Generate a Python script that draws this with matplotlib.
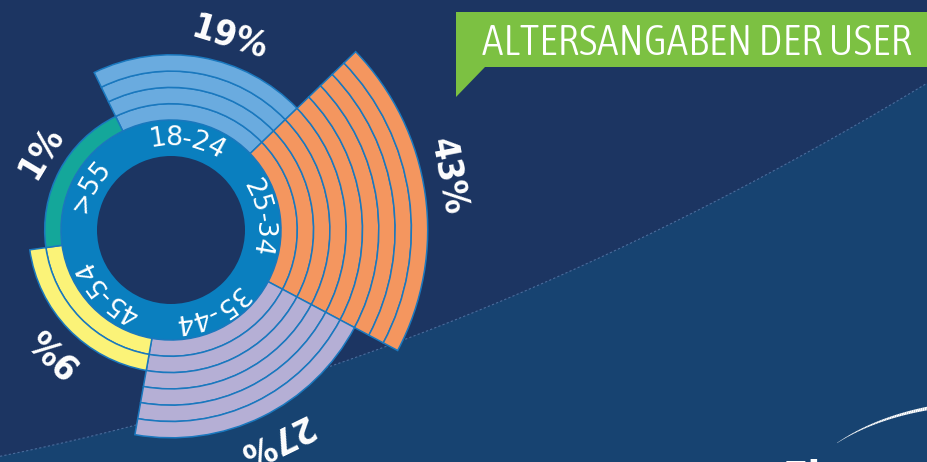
import numpy as np
import matplotlib
matplotlib.use("Agg")
import matplotlib.pyplot as plt
from matplotlib.patches import Wedge, Polygon
from matplotlib.collections import LineCollection
from matplotlib import font_manager
from matplotlib.font_manager import FontProperties

# ---------------- data ----------------
categories = ["18-24", "25-34", "35-44", "45-54", ">55"]
shares = [19, 43, 27, 9, 1]
pct_labels = ["19%", "43%", "27%", "9%", "1%"]
title = "ALTERSANGABEN DER USER"

# ---------------- style ----------------
sector_colors = ["#6aabdf", "#f4965f", "#b5afd5", "#fbf378", "#14a79a"]
label_angle_shift = [-7, 3, 0, 2, -3]
edge_color = "#1a78be"
ring_color = "#0a7fbf"
bg_dark = "#1c3562"
bg_light = "#174371"
banner_green = "#7cc142"

ttf = font_manager.fontManager.ttflist


def weight_num(w):
    m = {"light": 300, "normal": 400, "regular": 400, "medium": 500, "bold": 700}
    try:
        return int(w)
    except (TypeError, ValueError):
        return m.get(str(w).lower(), 400)


def find_font(pred, target_weight):
    cands = [f for f in ttf if pred(f) and f.style == "normal"]
    if not cands:
        return None
    best = min(cands, key=lambda f: abs(weight_num(f.weight) - target_weight))
    return FontProperties(fname=best.fname)


def is_cond(f):
    return ("Condensed" in f.name or "Narrow" in f.name
            or f.stretch in ("condensed", "semi-condensed", "extra-condensed"))


title_fp = find_font(is_cond, 300) or find_font(lambda f: f.name == "Roboto", 300) \
    or FontProperties(family="DejaVu Sans")
pct_fp = find_font(is_cond, 700) or find_font(lambda f: f.name == "Roboto", 700) \
    or FontProperties(family="DejaVu Sans", weight="bold")

W, H = 927, 462
fig = plt.figure(figsize=(W / 100, H / 100), dpi=100, facecolor=bg_dark)
ax = fig.add_axes([0, 0, 1, 1])
ax.set_xlim(0, W)
ax.set_ylim(0, H)
ax.set_aspect("equal")
ax.axis("off")
renderer = fig.canvas.get_renderer()


def Y(y):
    return H - y


# ---------------- background ----------------
bx = [0, 132, 363, 450, 757, 927]
by = [456, 427, 353, 323, 180, 83]
coef = np.polyfit(bx, by, 2)
xs = np.linspace(0, W, 300)
ys = np.polyval(coef, xs)
ax.add_patch(Polygon(list(zip(xs, H - ys)) + [(W, 0), (0, 0)], closed=True,
                     facecolor=bg_light, edgecolor="none", zorder=0))
ax.plot(xs, H - ys, color="#4b6c9c", lw=0.8, ls=(0, (2, 2)), zorder=0.5)

# white tapered arc bottom right
t = np.linspace(0, 1, 60)
P0, P1, P2 = np.array([837, 443]), np.array([875, 418]), np.array([930, 408])
pts = ((1 - t) ** 2)[:, None] * P0 + (2 * (1 - t) * t)[:, None] * P1 + (t ** 2)[:, None] * P2
pts[:, 1] = H - pts[:, 1]
segs = np.stack([pts[:-1], pts[1:]], axis=1)
ax.add_collection(LineCollection(segs, colors="white", linewidths=np.linspace(0.2, 2.6, len(segs)), zorder=1))
ax.text(783, Y(459), "Ei", color="white", fontsize=30, fontproperties=pct_fp,
        ha="left", va="top", zorder=1)

# ---------------- banner ----------------
banner = [(456, 12), (927, 12), (927, 67), (485, 67), (456, 97)]
ax.add_patch(Polygon([(x, Y(y)) for x, y in banner], closed=True, facecolor=banner_green,
                     edgecolor="none", zorder=2))
tt = ax.text(482, Y(55), title, color="white", fontproperties=title_fp,
             ha="left", va="baseline", zorder=3)
tt.set_fontsize(32)
w = tt.get_window_extent(renderer).width
tt.set_fontsize(32 * 431 / w)

# ---------------- radial chart ----------------
cx, cy = 171, Y(230)
r_hole, r_ring = 74, 110
layer_t = 16.3
start_angle = 116.0
span = 360.0 / len(categories)

ax.add_patch(Wedge((cx, cy), r_ring, 0, 360, width=r_ring - r_hole, facecolor=ring_color,
                   edgecolor="none", zorder=3))

for i, (cat, share, col, lab) in enumerate(zip(categories, shares, sector_colors, pct_labels)):
    th2 = start_angle - i * span
    th1 = th2 - span
    n_layers = int(np.ceil(share / 5))
    for k in range(n_layers):
        ax.add_patch(Wedge((cx, cy), r_ring + (k + 1) * layer_t, th1, th2, width=layer_t,
                           facecolor=col, edgecolor=edge_color, lw=1.1, zorder=4))
    mid = np.deg2rad((th1 + th2) / 2)
    # percentage label
    lab_ang = mid + np.deg2rad(label_angle_shift[i])
    r_lab = r_ring + n_layers * layer_t + 26
    pt = ax.text(cx + r_lab * np.cos(lab_ang), cy + r_lab * np.sin(lab_ang), lab, color="white",
                 fontproperties=pct_fp,
                 rotation=np.rad2deg(lab_ang) - 90, rotation_mode="anchor",
                 ha="center", va="center", zorder=6)
    pt.set_fontsize(26)
    # curved category label
    r_txt = (r_hole + r_ring) / 2
    fs = 19
    widths = []
    for j in range(len(cat) + 1):
        if j == 0:
            widths.append(0.0)
            continue
        tmp = ax.text(0, 0, cat[:j], fontsize=fs, family="DejaVu Sans")
        widths.append(tmp.get_window_extent(renderer).width)
        tmp.remove()
    total = widths[-1]
    for j, ch in enumerate(cat):
        s = (widths[j] + widths[j + 1]) / 2
        th = mid + (total / 2 - s) / r_txt
        ax.text(cx + r_txt * np.cos(th), cy + r_txt * np.sin(th), ch, color="white",
                fontsize=fs, family="DejaVu Sans", rotation=np.rad2deg(th) - 90,
                rotation_mode="anchor", ha="center", va="center", zorder=6)

fig.savefig("out.png", dpi=100, facecolor=fig.get_facecolor())
